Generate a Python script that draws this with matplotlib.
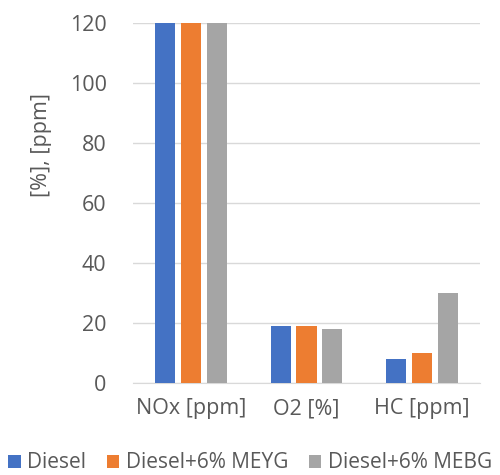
import matplotlib.pyplot as plt
import numpy as np

categories = ["NOx [ppm]", "O2 [%]", "HC [ppm]"]
series_names = ["Diesel", "Diesel+6% MEYG", "Diesel+6% MEBG"]
diesel = [780, 19, 8]
meyg = [810, 19, 10]
mebg = [795, 18, 30]
colors = ["#4472C4", "#ED7D31", "#A5A5A5"]
yticks = [0, 20, 40, 60, 80, 100, 120]

plt.rcParams['font.family'] = ['Open Sans', 'DejaVu Sans']
text_color = "#595959"

fig = plt.figure(figsize=(5, 4.75), dpi=100)
ax = fig.add_axes([133/500, 1 - 383/475, (480-133)/500, (383-23)/475])

x = np.arange(len(categories))
width = 0.175
step = 0.223
for i, (vals, name, c) in enumerate(zip([diesel, meyg, mebg], series_names, colors)):
    ax.bar(x + (i - 1) * step, vals, width, color=c, label=name, zorder=3)

ax.set_xlim(-0.5, len(categories) - 0.5)
ax.set_ylim(0, 120)
ax.set_yticks(yticks)
ax.set_xticks(x)
ax.set_xticklabels(categories)
ax.tick_params(axis='both', length=0, labelsize=15.5, colors=text_color)
ax.tick_params(axis='x', pad=11)
ax.tick_params(axis='y', pad=19)
ax.grid(axis='y', color="#D9D9D9", linewidth=1, zorder=0)
for s in ["top", "right", "left"]:
    ax.spines[s].set_visible(False)
ax.spines["bottom"].set_color("#D9D9D9")

fig.text(41/500, 1 - 145/475, "[%], [ppm]", rotation=90, ha="center", va="center",
         fontsize=15.5, color=text_color)

fig.legend(loc="center", bbox_to_anchor=(0.5, 1 - 463/475), ncol=3, frameon=False,
           fontsize=15, labelcolor=text_color, handlelength=0.6, handleheight=0.6,
           handletextpad=0.3, columnspacing=1.0)

fig.savefig("out.png", dpi=100)
